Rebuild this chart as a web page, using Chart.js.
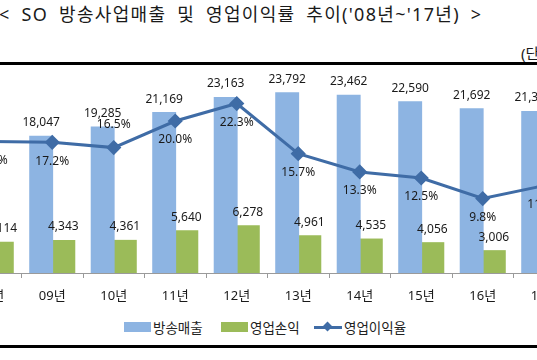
<!DOCTYPE html>
<html><head><meta charset="utf-8">
<script src="https://cdn.jsdelivr.net/npm/chart.js@4"></script>
<style>
html,body{margin:0;padding:0;background:#fff;}
body{width:537px;height:360px;overflow:hidden;position:relative;font-family:'Noto Sans','Noto Sans CJK KR',sans-serif;color:#1a1a1a;}
#title{position:absolute;left:-1px;top:0px;font-size:18px;white-space:nowrap;letter-spacing:1.3px;word-spacing:5px;}
#unit{position:absolute;left:521px;top:42px;font-size:15px;white-space:nowrap;}
.rule{position:absolute;left:0;width:537px;height:3px;background:#000;z-index:2;}
#wrap{position:absolute;left:-43px;top:40px;width:618px;height:265px;}
.leg{position:absolute;top:319px;height:16px;display:flex;align-items:center;font-size:13.5px;white-space:nowrap;color:#222;}
.box{width:27px;height:10px;margin-right:2px;}
.lsym{position:relative;width:28px;height:10px;margin-right:2px;}
.lsym .ln{position:absolute;left:0;top:4px;width:28px;height:3px;}
.lsym .dm{position:absolute;left:10px;top:1px;width:7px;height:7px;transform:rotate(45deg);}
</style></head>
<body>
<div id="title">&lt; SO 방송사업매출 및 영업이익률 추이('08년~'17년) &gt;</div>
<div id="unit">(단위: 억원, %)</div>
<div class="rule" style="top:62px"></div>
<div class="rule" style="top:345px"></div>
<div id="wrap"><canvas id="c"></canvas></div>
<div id="legend"></div>
<script>
// ---- data ----
const years = ['08년','09년','10년','11년','12년','13년','14년','15년','16년','17년'];
const revenue = [16120, 18047, 19285, 21169, 23163, 23792, 23462, 22590, 21692, 21307];
const opProfit = [4114, 4343, 4361, 5640, 6278, 4961, 4535, 4056, 3006, 2490];
const opMargin = [17.3, 17.2, 16.5, 20.0, 22.3, 15.7, 13.3, 12.5, 9.8, 11.5];
const seriesNames = ['방송매출', '영업손익', '영업이익율'];

const colors = { rev: '#8DB4E2', op: '#9BBB59', line: '#3F6CA6' };
const FONT = "'Noto Sans','Noto Sans CJK KR',sans-serif";

// margin labels drawn above the point for these indices
const marginAbove = [2];

const labelPlugin = {
  id: 'valueLabels',
  afterDatasetsDraw(chart) {
    const ctx = chart.ctx;
    ctx.save();
    ctx.font = '12px ' + FONT;
    ctx.fillStyle = '#1a1a1a';
    ctx.textAlign = 'center';
    ctx.textBaseline = 'middle';
    chart.data.datasets.forEach((ds, di) => {
      const meta = chart.getDatasetMeta(di);
      meta.data.forEach((el, i) => {
        const v = ds.data[i];
        if (ds.type === 'line') {
          const dy = marginAbove.includes(i) ? -23 : 19;
          ctx.fillText(v.toFixed(1) + '%', el.x, el.y + dy);
        } else {
          ctx.fillText(v.toLocaleString('en-US'), el.x, el.y - 13);
        }
      });
    });
    ctx.restore();
  }
};

new Chart(document.getElementById('c'), {
  data: {
    labels: years,
    datasets: [
      { type: 'line', label: seriesNames[2], data: opMargin, yAxisID: 'y1', order: 0,
        borderColor: colors.line, backgroundColor: colors.line, borderWidth: 3,
        pointStyle: 'rectRot', pointRadius: 5.5, pointBackgroundColor: colors.line,
        pointBorderColor: colors.line, tension: 0 },
      { type: 'bar', label: seriesNames[0], data: revenue, yAxisID: 'y', order: 1,
        backgroundColor: colors.rev, categoryPercentage: 0.72, barPercentage: 1.08 },
      { type: 'bar', label: seriesNames[1], data: opProfit, yAxisID: 'y', order: 2,
        backgroundColor: colors.op, categoryPercentage: 0.72, barPercentage: 1.08 }
    ]
  },
  options: {
    responsive: true, maintainAspectRatio: false, animation: false,
    devicePixelRatio: 1,
    layout: { autoPadding: false, padding: { left: 3, right: 0, top: 5, bottom: 0 } },
    plugins: { legend: { display: false }, tooltip: { enabled: false } },
    scales: {
      x: {
        offset: true,
        grid: { display: true, drawOnChartArea: false, drawTicks: true, tickLength: 5, color: '#9a9a9a', offset: true },
        border: { display: true, color: '#9a9a9a', width: 1 },
        ticks: { font: { family: FONT, size: 13 }, color: '#1a1a1a', padding: 10, maxRotation: 0, autoSkip: false },
        afterFit(s) { s.height = 32; }
      },
      y: { display: false, min: 0, max: 30000 },
      y1: { display: false, min: 0, max: 30, position: 'right' }
    }
  },
  plugins: [labelPlugin]
});

// HTML legend built from series names
const legend = document.getElementById('legend');
const legItems = [
  { name: seriesNames[0], left: 124, kind: 'box', color: colors.rev },
  { name: seriesNames[1], left: 221, kind: 'box', color: colors.op },
  { name: seriesNames[2], left: 314, kind: 'line', color: colors.line }
];
legItems.forEach(it => {
  const d = document.createElement('div');
  d.className = 'leg';
  d.style.left = it.left + 'px';
  let sym;
  if (it.kind === 'box') {
    sym = '<div class="box" style="background:' + it.color + '"></div>';
  } else {
    sym = '<div class="lsym"><div class="ln" style="background:' + it.color + '"></div><div class="dm" style="background:' + it.color + '"></div></div>';
  }
  d.innerHTML = sym + '<span>' + it.name + '</span>';
  legend.appendChild(d);
});
</script>
</body></html>
